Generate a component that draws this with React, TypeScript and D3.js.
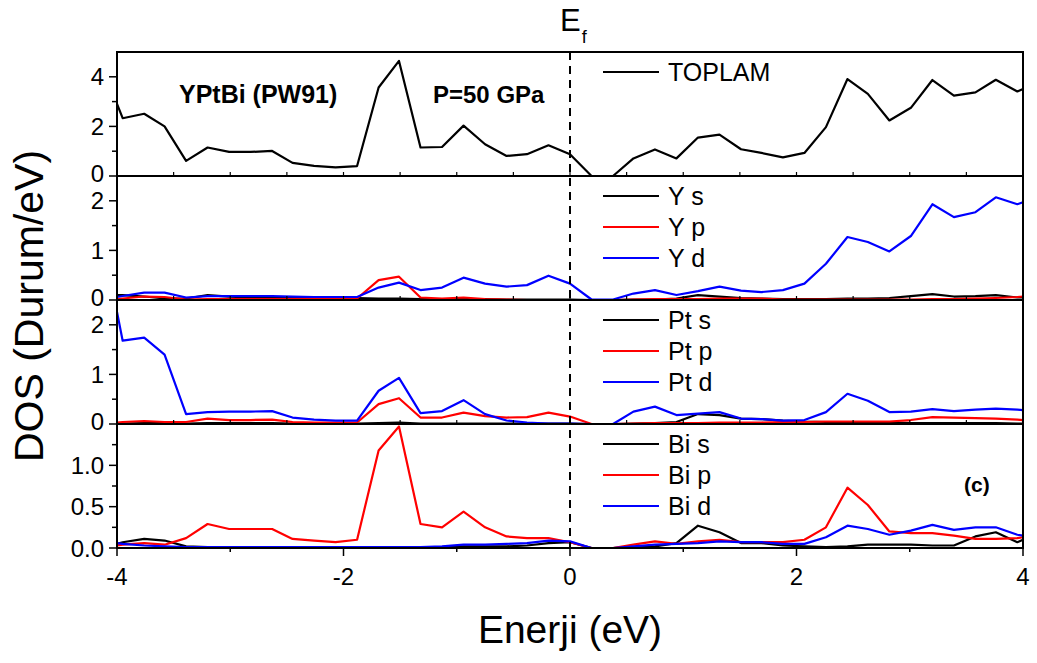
import React from "react";
import * as d3 from "d3";

const energy = [-4.0, -3.95, -3.76, -3.58, -3.39, -3.2, -3.01, -2.82, -2.63, -2.45, -2.26, -2.07, -1.88, -1.69, -1.51, -1.32, -1.13, -0.94, -0.75, -0.56, -0.38, -0.19, 0.0, 0.19, 0.38, 0.56, 0.75, 0.94, 1.13, 1.32, 1.51, 1.69, 1.88, 2.07, 2.26, 2.45, 2.63, 2.82, 3.01, 3.2, 3.39, 3.58, 3.76, 3.95, 4.0];

const toplam = [2.91, 2.33, 2.51, 2.0, 0.61, 1.15, 0.97, 0.97, 1.01, 0.53, 0.41, 0.35, 0.4, 3.57, 4.64, 1.15, 1.17, 2.03, 1.28, 0.81, 0.88, 1.24, 0.88, 0.0, 0.0, 0.71, 1.07, 0.71, 1.55, 1.67, 1.08, 0.93, 0.75, 0.93, 1.97, 3.91, 3.31, 2.24, 2.75, 3.87, 3.24, 3.37, 3.88, 3.41, 3.51];

const ys = [0.1, 0.1, 0.07, 0.03, 0.03, 0.1, 0.07, 0.05, 0.05, 0.04, 0.04, 0.04, 0.04, 0.03, 0.03, 0.02, 0.02, 0.02, 0.02, 0.01, 0.01, 0.01, 0.01, 0.0, 0.0, 0.01, 0.01, 0.03, 0.1, 0.07, 0.04, 0.03, 0.02, 0.02, 0.02, 0.03, 0.03, 0.04, 0.08, 0.12, 0.07, 0.08, 0.1, 0.05, 0.05];
const yp = [0.02, 0.03, 0.07, 0.06, 0.01, 0.02, 0.02, 0.02, 0.02, 0.02, 0.02, 0.02, 0.03, 0.4, 0.47, 0.05, 0.03, 0.05, 0.02, 0.01, 0.0, 0.0, 0.0, 0.0, 0.0, 0.01, 0.02, 0.02, 0.02, 0.03, 0.03, 0.03, 0.01, 0.01, 0.01, 0.01, 0.01, 0.01, 0.01, 0.02, 0.02, 0.03, 0.04, 0.06, 0.07];
const yd = [0.06, 0.08, 0.15, 0.15, 0.05, 0.08, 0.08, 0.08, 0.08, 0.07, 0.06, 0.06, 0.06, 0.25, 0.35, 0.2, 0.25, 0.45, 0.33, 0.27, 0.3, 0.49, 0.33, 0.01, 0.01, 0.13, 0.2, 0.1, 0.18, 0.27, 0.19, 0.16, 0.2, 0.33, 0.73, 1.27, 1.17, 0.98, 1.29, 1.93, 1.67, 1.77, 2.07, 1.93, 1.97];

const pts = [0.01, 0.01, 0.02, 0.02, 0.01, 0.02, 0.02, 0.02, 0.02, 0.01, 0.01, 0.01, 0.01, 0.02, 0.03, 0.01, 0.01, 0.01, 0.01, 0.01, 0.01, 0.01, 0.01, 0.0, 0.0, 0.01, 0.02, 0.04, 0.2, 0.18, 0.11, 0.1, 0.07, 0.05, 0.04, 0.03, 0.03, 0.03, 0.02, 0.02, 0.02, 0.02, 0.02, 0.01, 0.01];
const ptp = [0.03, 0.04, 0.06, 0.04, 0.04, 0.11, 0.08, 0.08, 0.09, 0.04, 0.03, 0.03, 0.03, 0.4, 0.52, 0.13, 0.13, 0.23, 0.16, 0.13, 0.14, 0.23, 0.15, 0.0, 0.0, 0.01, 0.02, 0.02, 0.02, 0.03, 0.03, 0.03, 0.04, 0.04, 0.05, 0.05, 0.05, 0.05, 0.08, 0.14, 0.13, 0.12, 0.11, 0.09, 0.08];
const ptd = [2.26, 1.68, 1.74, 1.4, 0.2, 0.24, 0.25, 0.25, 0.26, 0.13, 0.09, 0.07, 0.07, 0.67, 0.93, 0.22, 0.26, 0.48, 0.2, 0.07, 0.03, 0.01, 0.01, 0.0, 0.0, 0.25, 0.35, 0.18, 0.21, 0.24, 0.11, 0.1, 0.07, 0.08, 0.24, 0.61, 0.47, 0.24, 0.25, 0.3, 0.26, 0.29, 0.31, 0.29, 0.28];

const bis = [0.05, 0.07, 0.11, 0.09, 0.02, 0.01, 0.01, 0.01, 0.01, 0.01, 0.01, 0.01, 0.01, 0.01, 0.01, 0.01, 0.01, 0.02, 0.02, 0.02, 0.03, 0.06, 0.07, 0.0, 0.0, 0.01, 0.02, 0.06, 0.27, 0.19, 0.06, 0.06, 0.03, 0.02, 0.01, 0.02, 0.04, 0.04, 0.04, 0.03, 0.03, 0.14, 0.19, 0.07, 0.1];
const bip = [0.03, 0.04, 0.06, 0.04, 0.12, 0.29, 0.23, 0.23, 0.23, 0.11, 0.09, 0.07, 0.1, 1.18, 1.47, 0.29, 0.25, 0.44, 0.25, 0.14, 0.12, 0.12, 0.07, 0.0, 0.0, 0.04, 0.08, 0.05, 0.08, 0.1, 0.07, 0.07, 0.07, 0.1, 0.25, 0.73, 0.52, 0.2, 0.18, 0.18, 0.15, 0.11, 0.11, 0.12, 0.13];
const bid = [0.06, 0.05, 0.03, 0.02, 0.01, 0.01, 0.01, 0.01, 0.01, 0.01, 0.01, 0.01, 0.01, 0.01, 0.01, 0.01, 0.02, 0.04, 0.04, 0.05, 0.06, 0.09, 0.08, 0.0, 0.0, 0.02, 0.04, 0.05, 0.06, 0.08, 0.07, 0.07, 0.05, 0.05, 0.13, 0.27, 0.23, 0.16, 0.21, 0.28, 0.22, 0.25, 0.25, 0.16, 0.15];

const xTickLabels = ["-4", "-2", "0", "2", "4"];
const xMajor = [-4, -2, 0, 2, 4];
const xMinor = [-3, -1, 1, 3];
const innerTicks = [-3.5, -3, -2.5, -2, -1.5, -1, -0.5, 0, 0.5, 1, 1.5, 2, 2.5, 3, 3.5];

const panels = [
  { max: 5, major: [0, 2, 4], minor: [1, 3], fmt: "d", series: [{ name: "TOPLAM", values: toplam, color: "#000000" }] },
  { max: 2.5, major: [0, 1, 2], minor: [0.5, 1.5], fmt: "d", series: [
    { name: "Y s", values: ys, color: "#000000" },
    { name: "Y p", values: yp, color: "#ff0000" },
    { name: "Y d", values: yd, color: "#0000ff" }] },
  { max: 2.5, major: [0, 1, 2], minor: [0.5, 1.5], fmt: "d", series: [
    { name: "Pt s", values: pts, color: "#000000" },
    { name: "Pt p", values: ptp, color: "#ff0000" },
    { name: "Pt d", values: ptd, color: "#0000ff" }] },
  { max: 1.5, major: [0, 0.5, 1.0], minor: [0.25, 0.75, 1.25], fmt: ".1f", series: [
    { name: "Bi s", values: bis, color: "#000000" },
    { name: "Bi p", values: bip, color: "#ff0000" },
    { name: "Bi d", values: bid, color: "#0000ff" }] },
];

const W = 1037, H = 663;
const L = 117, R = 1023, T = 52, PH = 124;
const FONT = "'Liberation Sans', Arial, sans-serif";

export default function App() {
  const x = d3.scaleLinear().domain([-4, 4]).range([L, R]);
  const B = T + PH * panels.length;
  return (
    <div style={{ position: "absolute", left: 0, top: 0 }}>
      <svg width={W} height={H} style={{ display: "block", background: "#fff" }} fontFamily={FONT}>
        {panels.map((p, pi) => {
          const top = T + pi * PH;
          const y = d3.scaleLinear().domain([0, p.max]).range([top + PH, top]);
          const fmt = d3.format(p.fmt);
          return (
            <g key={pi}>
              {p.series.map((s) => {
                const line = d3.line<number>().x((_, i) => x(energy[i])).y((v) => y(v));
                return <path key={s.name} d={line(s.values) || ""} fill="none" stroke={s.color} strokeWidth={2.2} strokeLinejoin="round" />;
              })}
              {p.major.map((v) => (
                <g key={"M" + v}>
                  <line x1={L - 8} x2={L} y1={y(v)} y2={y(v)} stroke="#000" strokeWidth={1.5} />
                  <text x={L - 13} y={y(v)} dy={v === 0 && pi < panels.length - 1 ? "0.26em" : "0.36em"} textAnchor="end" fontSize={24}>{fmt(v)}</text>
                </g>
              ))}
              {p.minor.map((v) => (
                <line key={"m" + v} x1={L - 5} x2={L} y1={y(v)} y2={y(v)} stroke="#000" strokeWidth={1.5} />
              ))}
              {pi > 0 && innerTicks.map((v) => (
                <line key={"it" + v} x1={x(v)} x2={x(v)} y1={top} y2={top - 4} stroke="#000" strokeWidth={1.2} />
              ))}
              {pi > 0 && <line x1={L} x2={R} y1={top} y2={top} stroke="#000" strokeWidth={2.2} />}
              {p.series.map((s, si) => {
                const ly = top + 20 + si * 31;
                return (
                  <g key={"lg" + s.name}>
                    <line x1={603} x2={659} y1={ly} y2={ly} stroke={s.color} strokeWidth={2.2} />
                    <text x={668} y={ly + 9} fontSize={25}>{s.name}</text>
                  </g>
                );
              })}
            </g>
          );
        })}
        <line x1={x(0)} x2={x(0)} y1={T} y2={B} stroke="#000" strokeWidth={2} strokeDasharray="8,6" />
        <rect x={L} y={T} width={R - L} height={B - T} fill="none" stroke="#000" strokeWidth={2} />
        {xMajor.map((v, i) => (
          <g key={"xM" + v}>
            <line x1={x(v)} x2={x(v)} y1={B} y2={B + 8} stroke="#000" strokeWidth={1.5} />
            <text x={x(v)} y={585} textAnchor="middle" fontSize={24}>{xTickLabels[i]}</text>
          </g>
        ))}
        {xMinor.map((v) => (
          <line key={"xm" + v} x1={x(v)} x2={x(v)} y1={B} y2={B + 4} stroke="#000" strokeWidth={1.5} />
        ))}
        <text x={x(0)} y={643} textAnchor="middle" fontSize={39}>Enerji (eV)</text>
        <text transform={`translate(43, ${(T + B) / 2 + 6}) rotate(-90)`} textAnchor="middle" fontSize={41}>DOS (Durum/eV)</text>
        <text x={560} y={31} fontSize={31}>E<tspan dx={1} dy={12} fontSize={18}>f</tspan></text>
        <text x={179} y={103} fontSize={25} fontWeight="bold">YPtBi (PW91)</text>
        <text x={433} y={103} fontSize={24} fontWeight="bold">P=50 GPa</text>
        <text x={964} y={492} fontSize={21} fontWeight="bold">(c)</text>
      </svg>
    </div>
  );
}
